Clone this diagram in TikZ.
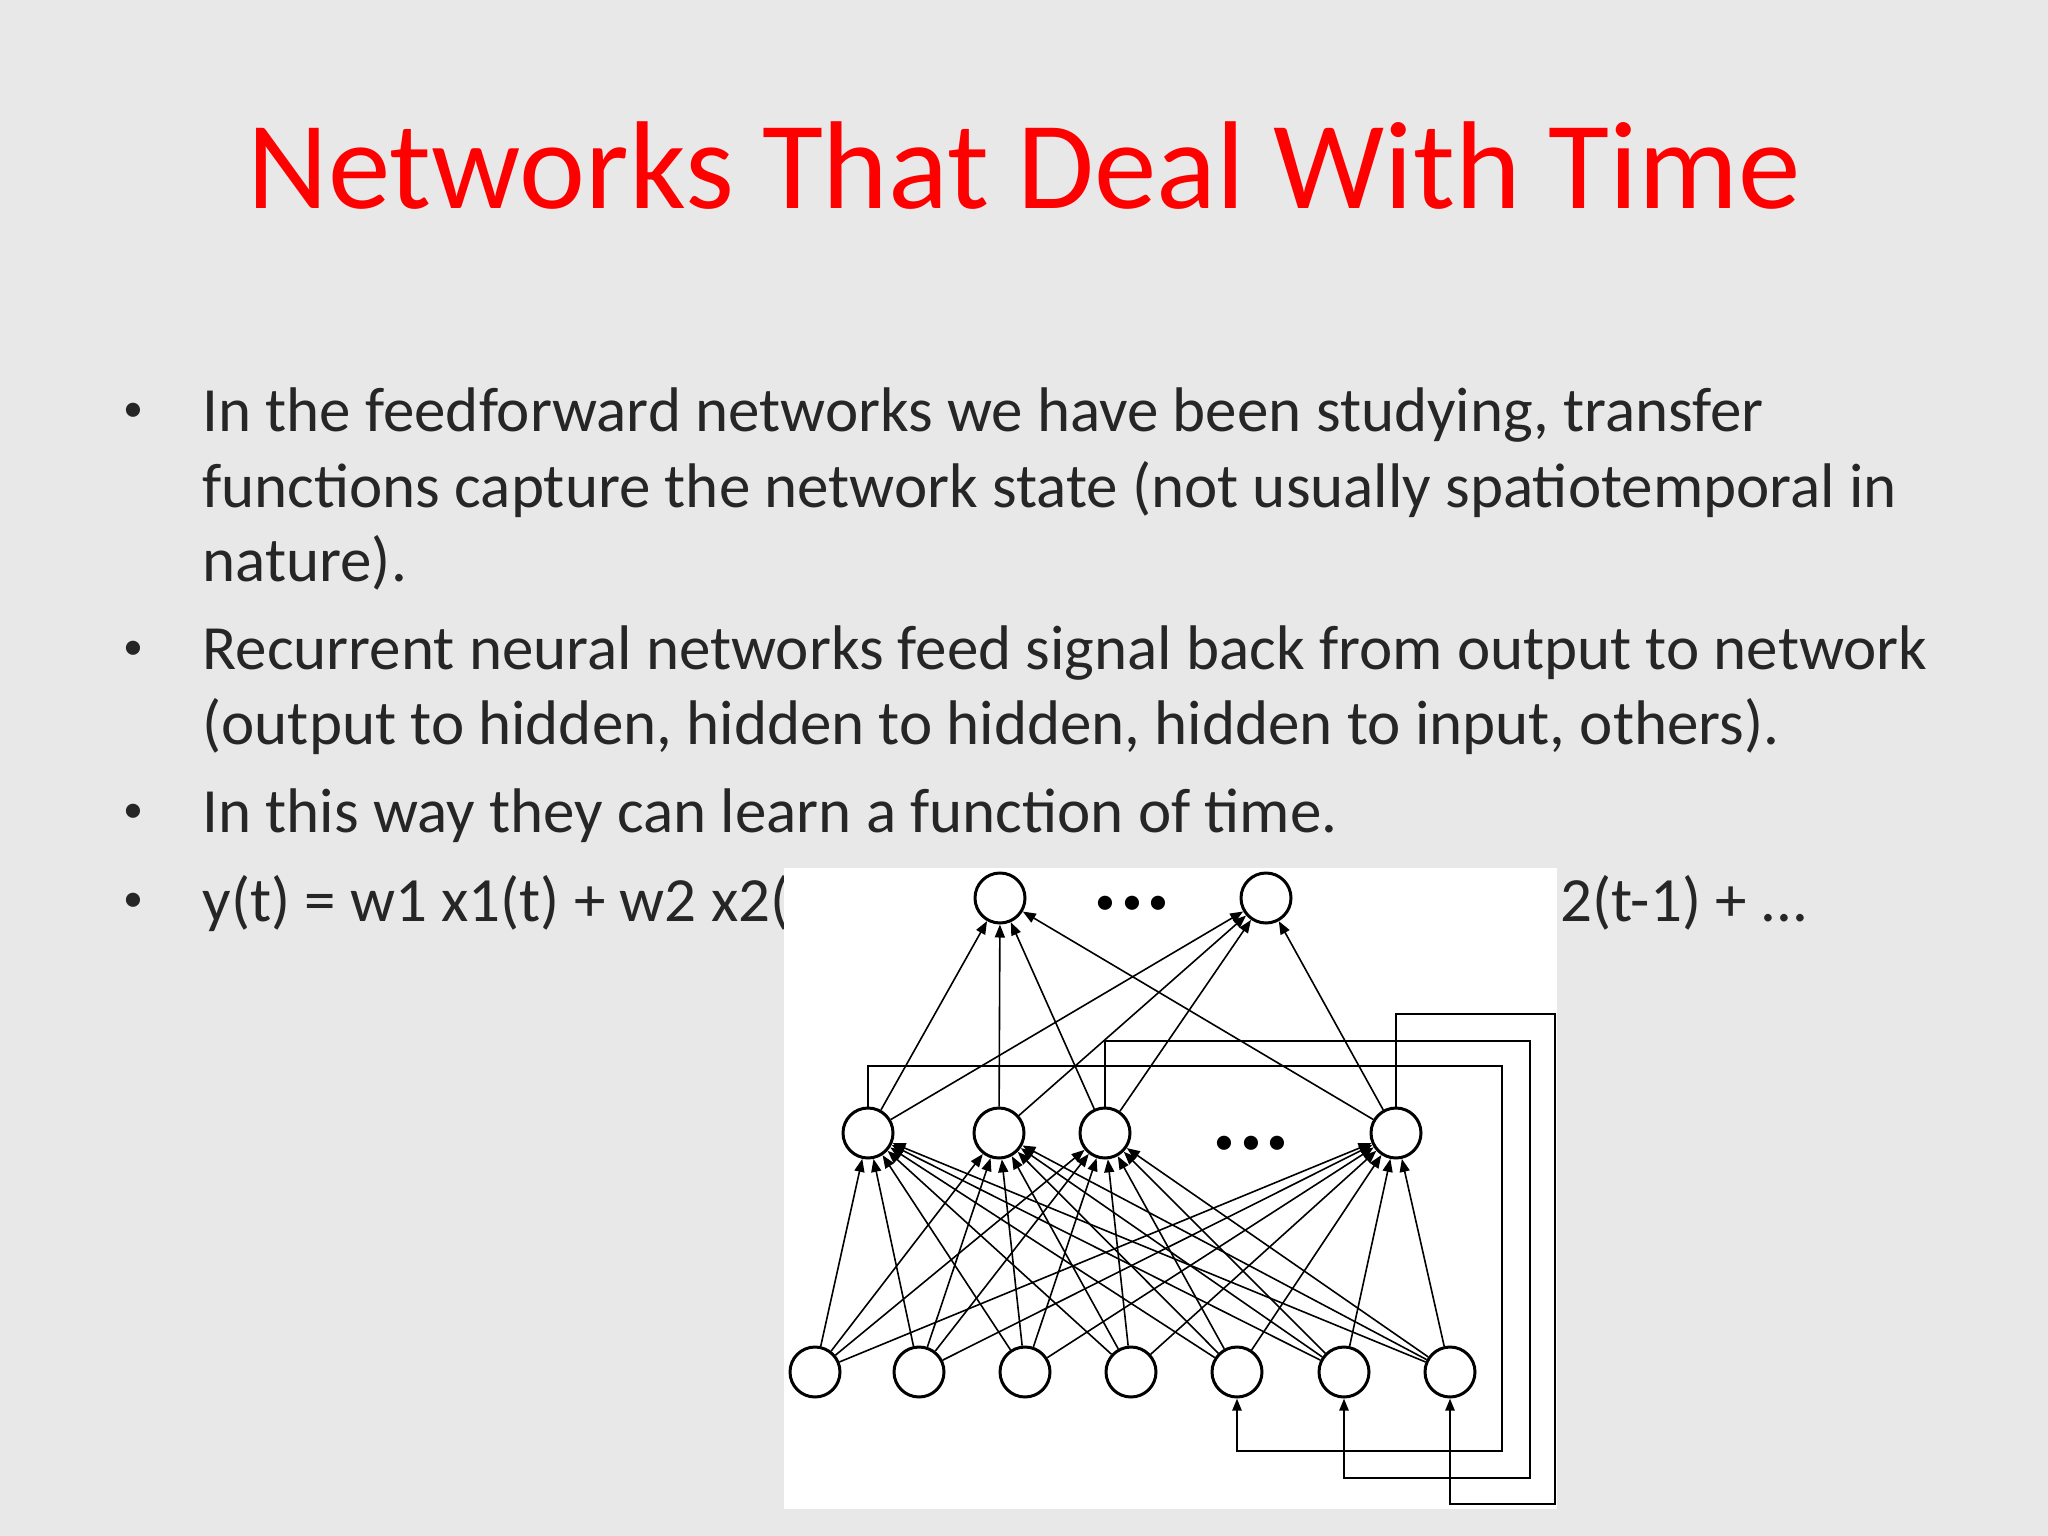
\documentclass[tikz,border=0pt]{standalone}
\usepackage{fontspec}
\setmainfont{Carlito}
\usetikzlibrary{arrows.meta}
\begin{document}
\begin{tikzpicture}[x=1pt,y=-1pt,
  neur/.style={circle,draw,line width=3pt,minimum size=50pt,inner sep=0pt},
  arr/.style={line width=1.6pt,-{Triangle[length=13pt,width=10pt]}},
  fb/.style={line width=2.4pt,-{Triangle[length=12pt,width=9pt]}},
  dots/.style={font=\fontsize{40}{40}\selectfont},
  body/.style={anchor=base west,font=\fontsize{63}{70}\selectfont,text=black!85}]
\fill[black!9] (0,0) rectangle (2048,1536);
\useasboundingbox (0,0) rectangle (2048,1536);
\node[anchor=base,text=red,font=\fontsize{125}{130}\selectfont] (title) at (1024,208) {Networks That Deal With Time};
\foreach \y/\t [count=\i] in {431/{In the feedforward networks we have been studying, transfer},
  507/{functions capture the network state (not usually spatiotemporal in},
  581/{nature).},
  669/{Recurrent neural networks feed signal back from output to network},
  744/{(output to hidden, hidden to hidden, hidden to input, others).},
  832/{In this way they can learn a function of time.},
  921/{y(t) = w1 x1(t) + w2 x2(}}
  \node[body] (l\i) at (199,\y) {\t};
\foreach \y [count=\i] in {421,659,822,911}
  \node[anchor=base,font=\fontsize{40}{40}\selectfont,text=black!85] (b\i) at (133,\y) {\textbullet};
\node[body] (lr) at (1557,921) {2(t-1) + ...};
\fill[white] (784,868) rectangle (1557,1509);
% nodes
\node[neur] (o1) at (1000,898) {};
\node[neur] (o2) at (1266,898) {};
\foreach \x [count=\i] in {868,999,1105,1396} \node[neur] (h\i) at (\x,1133) {};
\foreach \x [count=\i] in {815,919,1025,1131,1237,1344,1450} \node[neur] (i\i) at (\x,1372) {};
\node[dots] (d1) at (1132,905) {\textbullet\,\textbullet\,\textbullet};
\node[dots] (d2) at (1251,1145) {\textbullet\,\textbullet\,\textbullet};
\foreach \h in {1,...,4}{
  \foreach \o in {1,2} \draw[arr] (h\h) -- (o\o);
  \foreach \i in {1,...,7} \draw[arr] (i\i) -- (h\h);
}
\coordinate (a1) at (1502,1066); \coordinate (a2) at (1237,1451);
\coordinate (b1) at (1530,1041); \coordinate (b2) at (1344,1478);
\coordinate (c1) at (1555,1014); \coordinate (c2) at (1450,1504);
\draw[fb] (h1.north) |- (a1) |- (a2) -- (i5.south);
\draw[fb] (h3.north) |- (b1) |- (b2) -- (i6.south);
\draw[fb] (h4.north) |- (c1) |- (c2) -- (i7.south);
\end{tikzpicture}
\end{document}
